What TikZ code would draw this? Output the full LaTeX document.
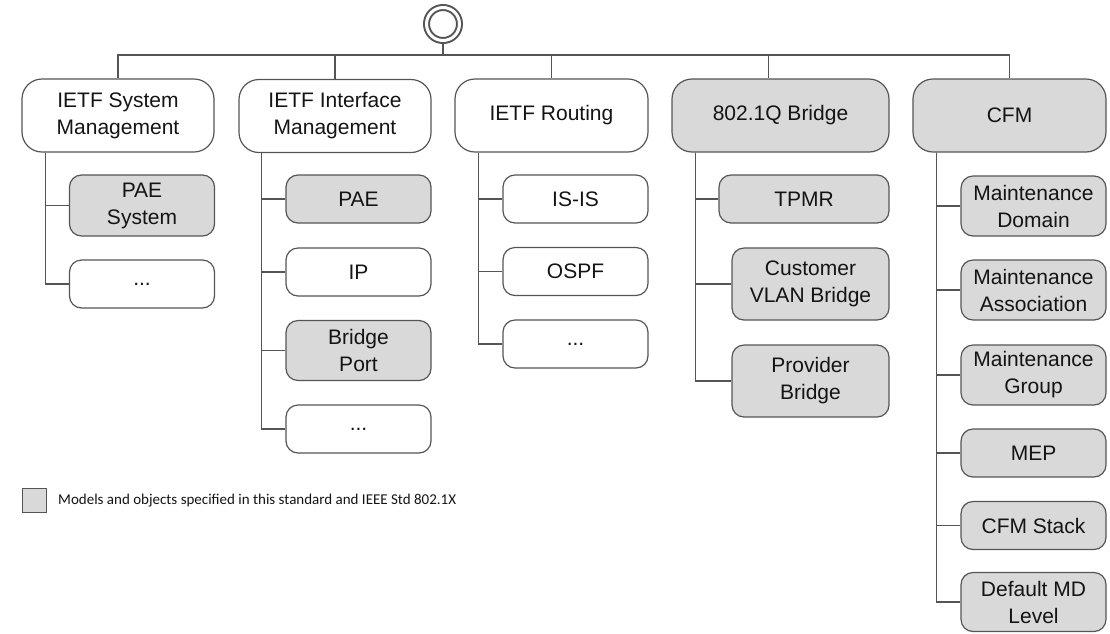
\documentclass[tikz,border=0pt]{standalone}
\usepackage{fontspec}
\setmainfont{Liberation Sans}
\newfontfamily\legendfont{Carlito}
\usetikzlibrary{calc}
\definecolor{linegray}{RGB}{85,85,85}
\definecolor{stdgray}{RGB}{217,217,217}
\definecolor{textblack}{RGB}{20,20,20}

\begin{document}
\begin{tikzpicture}[x=1pt,y=-1pt]
  \tikzset{
    topbox/.style={draw=linegray,line width=1.2pt,rounded corners=20pt,
      minimum width=192pt,minimum height=73pt,inner sep=0pt,align=center,
      text=textblack,font=\fontsize{21}{27}\selectfont},
    subbox/.style={topbox,rounded corners=12pt,minimum width=145pt,minimum height=48pt},
    std/.style={fill=stdgray},
    treeline/.style={draw=linegray,line width=1.4pt},
  }
  \useasboundingbox (0,0) rectangle (1110,633);
  %ROOT
  \node[circle,draw=linegray,double=white,double distance=3pt,line width=2pt,
    minimum size=33pt,inner sep=0pt] (root) at (443,24) {};
  \coordinate (bus) at (443,55);
  \draw[treeline] (root) -- (bus);

  %TOP BOXES
  \node[topbox] (sys) at (118,115.5) {IETF System\\Management};
  \node[topbox] (intf) at (335,116) {IETF Interface\\Management};
  \node[topbox,minimum width=193pt] (rout) at (551.5,115.5) {IETF Routing};
  \node[topbox,std,minimum width=217pt] (brdg) at (780.5,115.5) {802.1Q Bridge};
  \node[topbox,std,minimum width=193pt] (cfm) at (1009.5,115.5) {CFM};
  %BUS
  \foreach \p in {sys,intf,rout,cfm}{
    \draw[treeline] (\p.north) |- (bus);
  }
  \draw[treeline] ([xshift=-12pt]brdg.north) |- (bus);

  %COLUMN 1
  \node[subbox,std,minimum height=61pt] (sys1) at (142,205.5) {PAE\\System};
  \node[subbox] (sys2) at (142,284) {...};
  \foreach \c in {sys1,sys2}{
    \draw[treeline] ([xshift=24pt]sys.south west) |- (\c.west);
  }

  %COLUMN 2
  \node[subbox,std] (intf1) at (358.5,199) {PAE};
  \node[subbox] (intf2) at (358.5,272) {IP};
  \node[subbox,std,minimum height=60pt] (intf3) at (358.5,350.5) {Bridge\\Port};
  \node[subbox] (intf4) at (358.5,429) {...};
  \foreach \c in {intf1,intf2,intf3,intf4}{
    \draw[treeline] ([xshift=23pt]intf.south west) |- (\c.west);
  }

  %COLUMN 3
  \node[subbox] (rout1) at (575.5,199) {IS-IS};
  \node[subbox] (rout2) at (575.5,271.5) {OSPF};
  \node[subbox] (rout3) at (575.5,344) {...};
  \foreach \c in {rout1,rout2,rout3}{
    \draw[treeline] ([xshift=24pt]rout.south west) |- (\c.west);
  }

  %COLUMN 4
  \node[subbox,std,minimum width=170pt] (brdg1) at (804,199) {TPMR};
  \node[subbox,std,minimum width=157pt,minimum height=72pt] (brdg2) at (810.5,284) {Customer\\VLAN Bridge};
  \node[subbox,std,minimum width=157pt,minimum height=72pt] (brdg3) at (810.5,381) {Provider\\Bridge};
  \foreach \c in {brdg1,brdg2,brdg3}{
    \draw[treeline] ([xshift=24pt]brdg.south west) |- (\c.west);
  }

  %COLUMN 5
  \node[subbox,std,minimum height=60pt] (cfm1) at (1033.5,206) {Maintenance\\Domain};
  \node[subbox,std,minimum height=60pt] (cfm2) at (1033.5,290) {Maintenance\\Association};
  \node[subbox,std,minimum height=60pt] (cfm3) at (1033.5,375) {Maintenance\\Group};
  \node[subbox,std] (cfm4) at (1033.5,453) {MEP};
  \node[subbox,std] (cfm5) at (1033.5,525.5) {CFM Stack};
  \node[subbox,std,minimum height=59pt] (cfm6) at (1033.5,602) {Default MD\\Level};
  \foreach \c in {cfm1,cfm2,cfm3,cfm4,cfm5,cfm6}{
    \draw[treeline] ([xshift=24pt]cfm.south west) |- (\c.west);
  }

  %LEGEND
  \node[draw=linegray,line width=1pt,std,minimum size=24pt,inner sep=0pt] (key) at (34,500.5) {};
  \node[anchor=west,inner sep=0pt,text=textblack,font=\legendfont\fontsize{15}{18}\selectfont]
    (keytext) at (58,500.5) {Models and objects specified in this standard and IEEE Std 802.1X};
\end{tikzpicture}
\end{document}
